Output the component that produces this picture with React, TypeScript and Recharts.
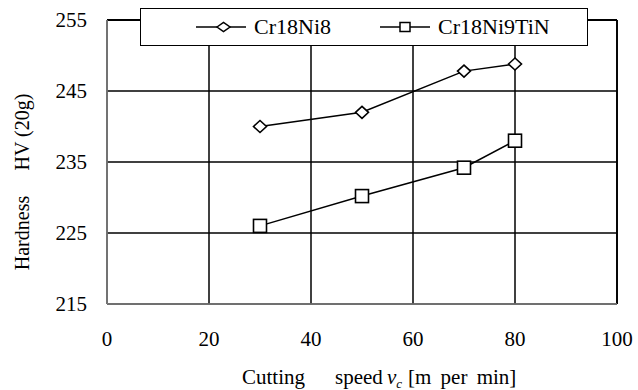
import { LineChart, Line, XAxis, YAxis, CartesianGrid, ReferenceLine } from "recharts";

const speeds = [30, 50, 70, 80];
const cr18ni8 = [240, 242, 247.8, 248.8];
const cr18ni9tin = [226, 230.2, 234.2, 238];
const seriesNames = ["Cr18Ni8", "Cr18Ni9TiN"];
const xTicks = [0, 20, 40, 60, 80, 100];
const yTicks = [215, 225, 235, 245, 255];

const rows = speeds.map((s, i) => ({ speed: s, a: cr18ni8[i], b: cr18ni9tin[i] }));

const FONT = "Liberation Serif, serif";

function Diamond(props: any) {
  const { cx, cy, index } = props;
  if (cx == null || cy == null) return <g key={index} />;
  const w = 6.5, h = 6;
  return (
    <path
      key={index}
      d={`M${cx - w},${cy} L${cx},${cy - h} L${cx + w},${cy} L${cx},${cy + h} Z`}
      fill="#fff"
      stroke="#000"
      strokeWidth={1.6}
    />
  );
}

function Square(props: any) {
  const { cx, cy, index } = props;
  if (cx == null || cy == null) return <g key={index} />;
  const r = 6.5;
  return <rect key={index} x={cx - r} y={cy - r} width={2 * r} height={2 * r} fill="#fff" stroke="#000" strokeWidth={1.6} />;
}

// legend box drawn over the top of the plot, like the original
function LegendBox() {
  return (
    <div
      style={{
        position: "absolute",
        left: 140,
        top: 8,
        boxSizing: "border-box",
        width: 448,
        height: 38,
        border: "1.6px solid #000",
        background: "#fff",
        display: "flex",
        alignItems: "center",
        paddingLeft: 55,
        gap: 49,
        fontFamily: FONT,
        fontSize: 22,
        color: "#000"
      }}
    >
      {seriesNames.map((name, i) => (
        <div key={name} style={{ display: "flex", alignItems: "center" }}>
          <svg width={50} height={14} style={{ marginRight: 8 }}>
            <line x1={0} y1={7} x2={50} y2={7} stroke="#000" strokeWidth={1.5} />
            {i === 0 ? (
              <path d="M21,7 L27.5,2.5 L34,7 L27.5,11.5 Z" fill="#fff" stroke="#000" strokeWidth={1.5} />
            ) : (
              <rect x={20} y={2.5} width={10} height={9} fill="#fff" stroke="#000" strokeWidth={1.5} />
            )}
          </svg>
          <span style={{ fontFamily: FONT }}>{name}</span>
        </div>
      ))}
    </div>
  );
}

function XLabel({ viewBox }: any) {
  const x0 = viewBox.x;
  const y = 384;
  return (
    <text y={y} fontFamily={FONT} fontSize={21} fill="#000">
      <tspan x={x0 + 135}>Cutting</tspan>
      <tspan x={x0 + 228}>speed</tspan>
      <tspan x={x0 + 280} fontStyle="italic">v</tspan>
      <tspan fontSize={13} dy={4} fontStyle="italic">c</tspan>
      <tspan x={x0 + 301} dy={-4} wordSpacing={4}>[m per min]</tspan>
    </text>
  );
}

function YLabel() {
  return (
    <g fontFamily={FONT} fontSize={20} fill="#000">
      <text x={22} y={233} textAnchor="middle" dy="0.35em" transform="rotate(-90 22 233)">Hardness</text>
      <text x={22} y={132} textAnchor="middle" dy="0.35em" transform="rotate(-90 22 132)">HV (20g)</text>
    </g>
  );
}

function Tick({ x, y, payload, textAnchor, dy }: any) {
  return (
    <text x={x} y={y} dy={dy} textAnchor={textAnchor} fontFamily={FONT} fontSize={21} fill="#000">
      {payload.value}
    </text>
  );
}

export default function App() {
  return (
    <div style={{ position: "absolute", left: 0, top: 0, width: 638, height: 390, background: "#fff", fontFamily: FONT }}>
      <LineChart width={638} height={390} data={rows} margin={{ top: 20, right: 21, left: 0, bottom: 0 }}>
        <CartesianGrid stroke="#000" strokeWidth={1.5} horizontalValues={yTicks} verticalValues={xTicks} />
        <XAxis
          dataKey="speed"
          type="number"
          domain={[0, 100]}
          ticks={xTicks}
          height={86}
          tickSize={0}
          tickMargin={27}
          tick={(p: any) => <Tick {...p} dy="0.71em" />}
          axisLine={{ stroke: "#808080", strokeWidth: 1.6 }}
          label={<XLabel />}
        />
        <YAxis
          type="number"
          domain={[215, 255]}
          ticks={yTicks}
          width={107}
          tickSize={0}
          tickMargin={20}
          tick={(p: any) => <Tick {...p} dy="0.355em" />}
          axisLine={{ stroke: "#808080", strokeWidth: 1.6 }}
          label={<YLabel />}
        />
        <ReferenceLine y={255} stroke="#000" strokeWidth={1.8} />
        <ReferenceLine x={100} stroke="#000" strokeWidth={1.8} />
        <Line
          dataKey="a"
          name={seriesNames[0]}
          stroke="#000"
          strokeWidth={1.5}
          dot={(p: any) => <Diamond {...p} />}
          isAnimationActive={false}
        />
        <Line
          dataKey="b"
          name={seriesNames[1]}
          stroke="#000"
          strokeWidth={1.5}
          dot={(p: any) => <Square {...p} />}
          isAnimationActive={false}
        />
      </LineChart>
      <LegendBox />
    </div>
  );
}
